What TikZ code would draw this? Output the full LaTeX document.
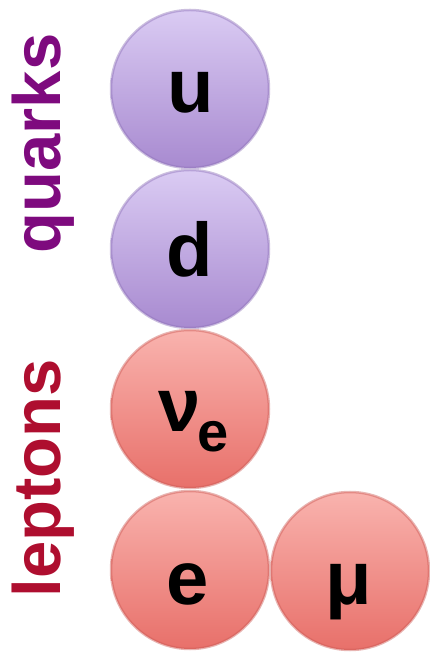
\documentclass[tikz,border=0pt]{standalone}
\usepackage{fontspec}
\setmainfont{Liberation Sans}
\usetikzlibrary{shadings}
\definecolor{qtop}{HTML}{DACBF3}
\definecolor{qmid}{HTML}{C4AEE6}
\definecolor{qbot}{HTML}{A88AD0}
\definecolor{qrim}{HTML}{8E72B8}
\definecolor{ltop}{HTML}{F9B3AE}
\definecolor{lmid}{HTML}{F4958F}
\definecolor{lbot}{HTML}{E8706A}
\definecolor{lrim}{HTML}{CC5A55}
\definecolor{qlab}{HTML}{7E0A7E}
\definecolor{llab}{HTML}{AE0E2F}
\begin{document}
\begin{tikzpicture}[x=1pt,y=1pt,
  ball/.style={circle,minimum size=158pt,inner sep=0pt,draw=#1rim,draw opacity=0.45,line width=2.5pt,top color=#1top,middle color=#1mid,bottom color=#1bot},
  letter/.style={inner sep=0pt,anchor=base,font=\bfseries\fontsize{76}{76}\selectfont},
  sublet/.style={inner sep=0pt,anchor=base,font=\bfseries\fontsize{56}{56}\selectfont},
  group/.style={inner sep=0pt,anchor=base,rotate=90,font=\bfseries\fontsize{67}{67}\selectfont,text=#1}]
\useasboundingbox (0,0) rectangle (430,655);
\node[ball=q] (bu) at (190,566) {};
\node[ball=q] (bd) at (190,406) {};
\node[ball=l] (bnu) at (190,246) {};
\node[ball=l] (be) at (190,85) {};
\node[ball=l] (bmu) at (350,84) {};
\node[letter] (tu) at (191,542) {u};
\node[letter] (td) at (190,378) {d};
\node[letter] (tnu) at (180,223) {ν};
\node[sublet] (tnue) at (213,203) {e};
\node[letter] (te) at (188,50) {e};
\node[letter] (tmu) at (349,50) {μ};
\node[group=qlab] (lq) at (60,511.5) {quarks};
\node[group=llab] (ll) at (60,176.5) {leptons};
\end{tikzpicture}
\end{document}
